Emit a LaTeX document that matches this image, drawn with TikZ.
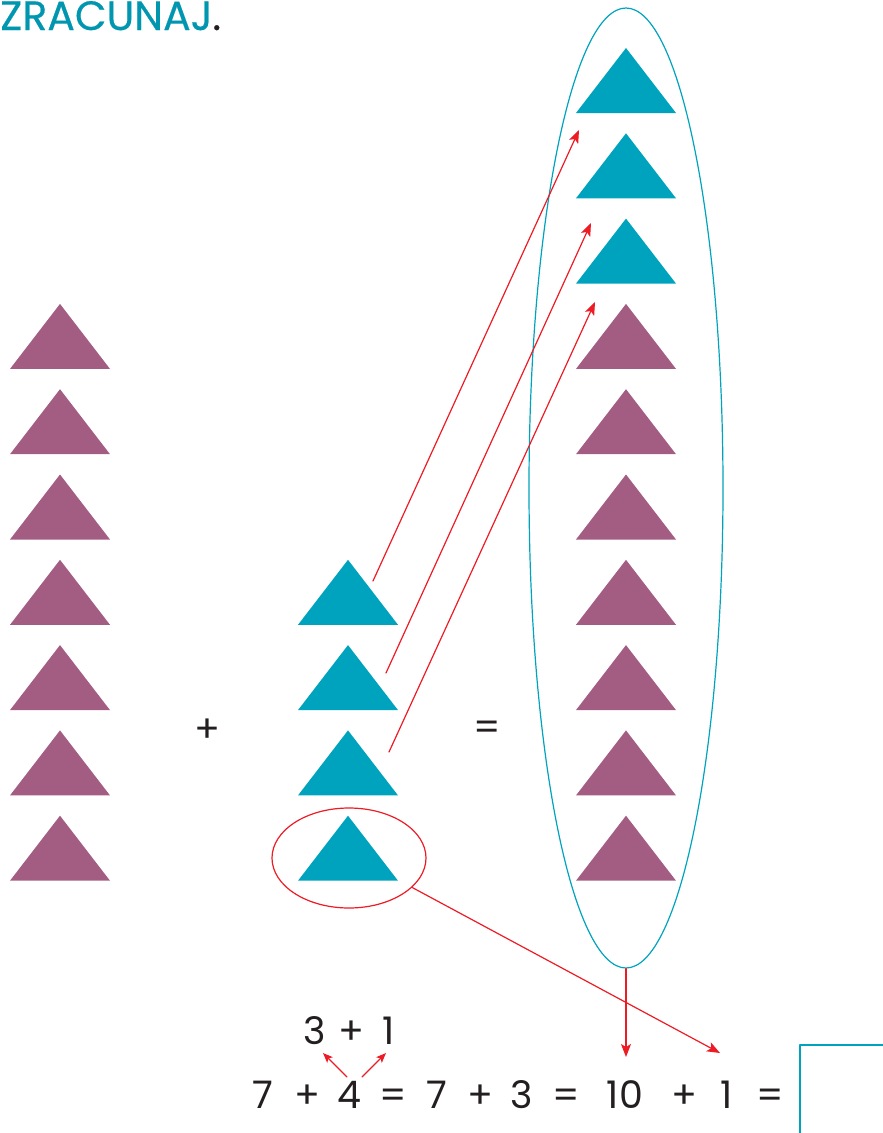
\documentclass[tikz,border=0pt]{standalone}
\usepackage{fontspec}
\setmainfont{Poppins}
\newfontfamily\titlefont[FakeBold=0.4]{Poppins}
\usetikzlibrary{arrows.meta,shapes.geometric}

\definecolor{triteal}{RGB}{0,163,189}
\definecolor{triplum}{RGB}{163,92,130}
\definecolor{arrred}{RGB}{237,28,36}
\definecolor{inkdark}{RGB}{35,31,32}
\definecolor{titleteal}{RGB}{0,150,176}

\begin{document}
\begin{tikzpicture}[x=1pt, y=-1pt, line cap=round, line join=round,
  tri/.pic={\fill (-50,65) -- (0,0) -- (50,65) -- cycle;},
  ringline/.style={line width=1.2pt, inner sep=0pt, ellipse},
  redarrow/.style={draw=arrred, line width=1.2pt, -{Stealth[length=13pt,width=10pt,inset=3pt]}},
  smallarrow/.style={draw=arrred, line width=1.1pt, -{Stealth[length=10pt,width=8pt,inset=2.5pt]}},
  num/.style={inner sep=0pt, anchor=base, text=inkdark, font=\fontsize{38}{40}\selectfont}]

  %% ════ 标题 ════
  \node[anchor=base west, inner sep=0pt, text=titleteal, font=\titlefont\fontsize{41}{44}\selectfont] (title) at (0,30) {ZRAČUNAJ\textcolor{inkdark}{.}};

  %% ════ 三角形 ════
  \foreach \k in {3,...,9}
    \pic[fill=triplum] at (60,{48+85.3*\k}) {tri};
  \foreach \k in {6,...,9}
    \pic[fill=triteal] at (348,{48+85.3*\k}) {tri};
  \foreach \k in {0,1,2}
    \pic[fill=triteal] at (626,{48+85.3*\k}) {tri};
  \foreach \k in {3,...,9}
    \pic[fill=triplum] at (626,{48+85.3*\k}) {tri};

  %% ════ 椭圆 ════
  \node[draw=triteal, ringline, minimum width=194pt, minimum height=960pt] (group) at (626,488) {};
  \node[draw=arrred, ringline, minimum width=154pt, minimum height=100pt] (circled) at (349,858) {};

  %% ════ 符号 ════
  \node[num, anchor=center] (plus) at (207,731) {+};
  \node[num, anchor=center] (equals) at (487,731) {=};

  %% ════ 算式 ════
  \foreach \x/\t/\n in {263/7/e1, 307/+/e2, 349/4/four, 393/=/e4, 437/7/e5, 480/+/e6,
                        522/3/e7, 566/=/e8, 625/10/e9, 684/+/e10, 727/1/e11, 770/=/e12}
    \node[num] (\n) at (\x,1108) {\t};
  \node[num] (up3) at (315,1044) {3};
  \node[num] (upplus) at (351,1044) {+};
  \node[num] (up1) at (389,1044) {1};

  % 答案框
  \draw[draw=triteal, line width=1.2pt, line cap=butt] (800,1140) -- (800,1045) -- (890,1045);

  %% ════ 箭头 ════
  \coordinate (from1) at (373,581);  \coordinate (to1) at (579,130);
  \coordinate (from2) at (386,673);  \coordinate (to2) at (591,223);
  \coordinate (from3) at (389,752);  \coordinate (to3) at (595,302);
  \coordinate (sum) at (626,1057);
  \coordinate (plusone) at (720,1053);
  \coordinate (splitl) at (347,1077); \coordinate (tol) at (323,1053);
  \coordinate (splitr) at (362,1077); \coordinate (tor) at (386,1053);

  \draw[redarrow] (from1) -- (to1);
  \draw[redarrow] (from2) -- (to2);
  \draw[redarrow] (from3) -- (to3);
  \draw[redarrow] (group.south) -- (sum);
  \draw[redarrow] (circled.-25) -- (plusone);
  \draw[smallarrow] (splitl) -- (tol);
  \draw[smallarrow] (splitr) -- (tor);

  % 固定画布
  \pgfresetboundingbox
  \path[use as bounding box] (0,0) rectangle (883,1133);
\end{tikzpicture}
\end{document}
